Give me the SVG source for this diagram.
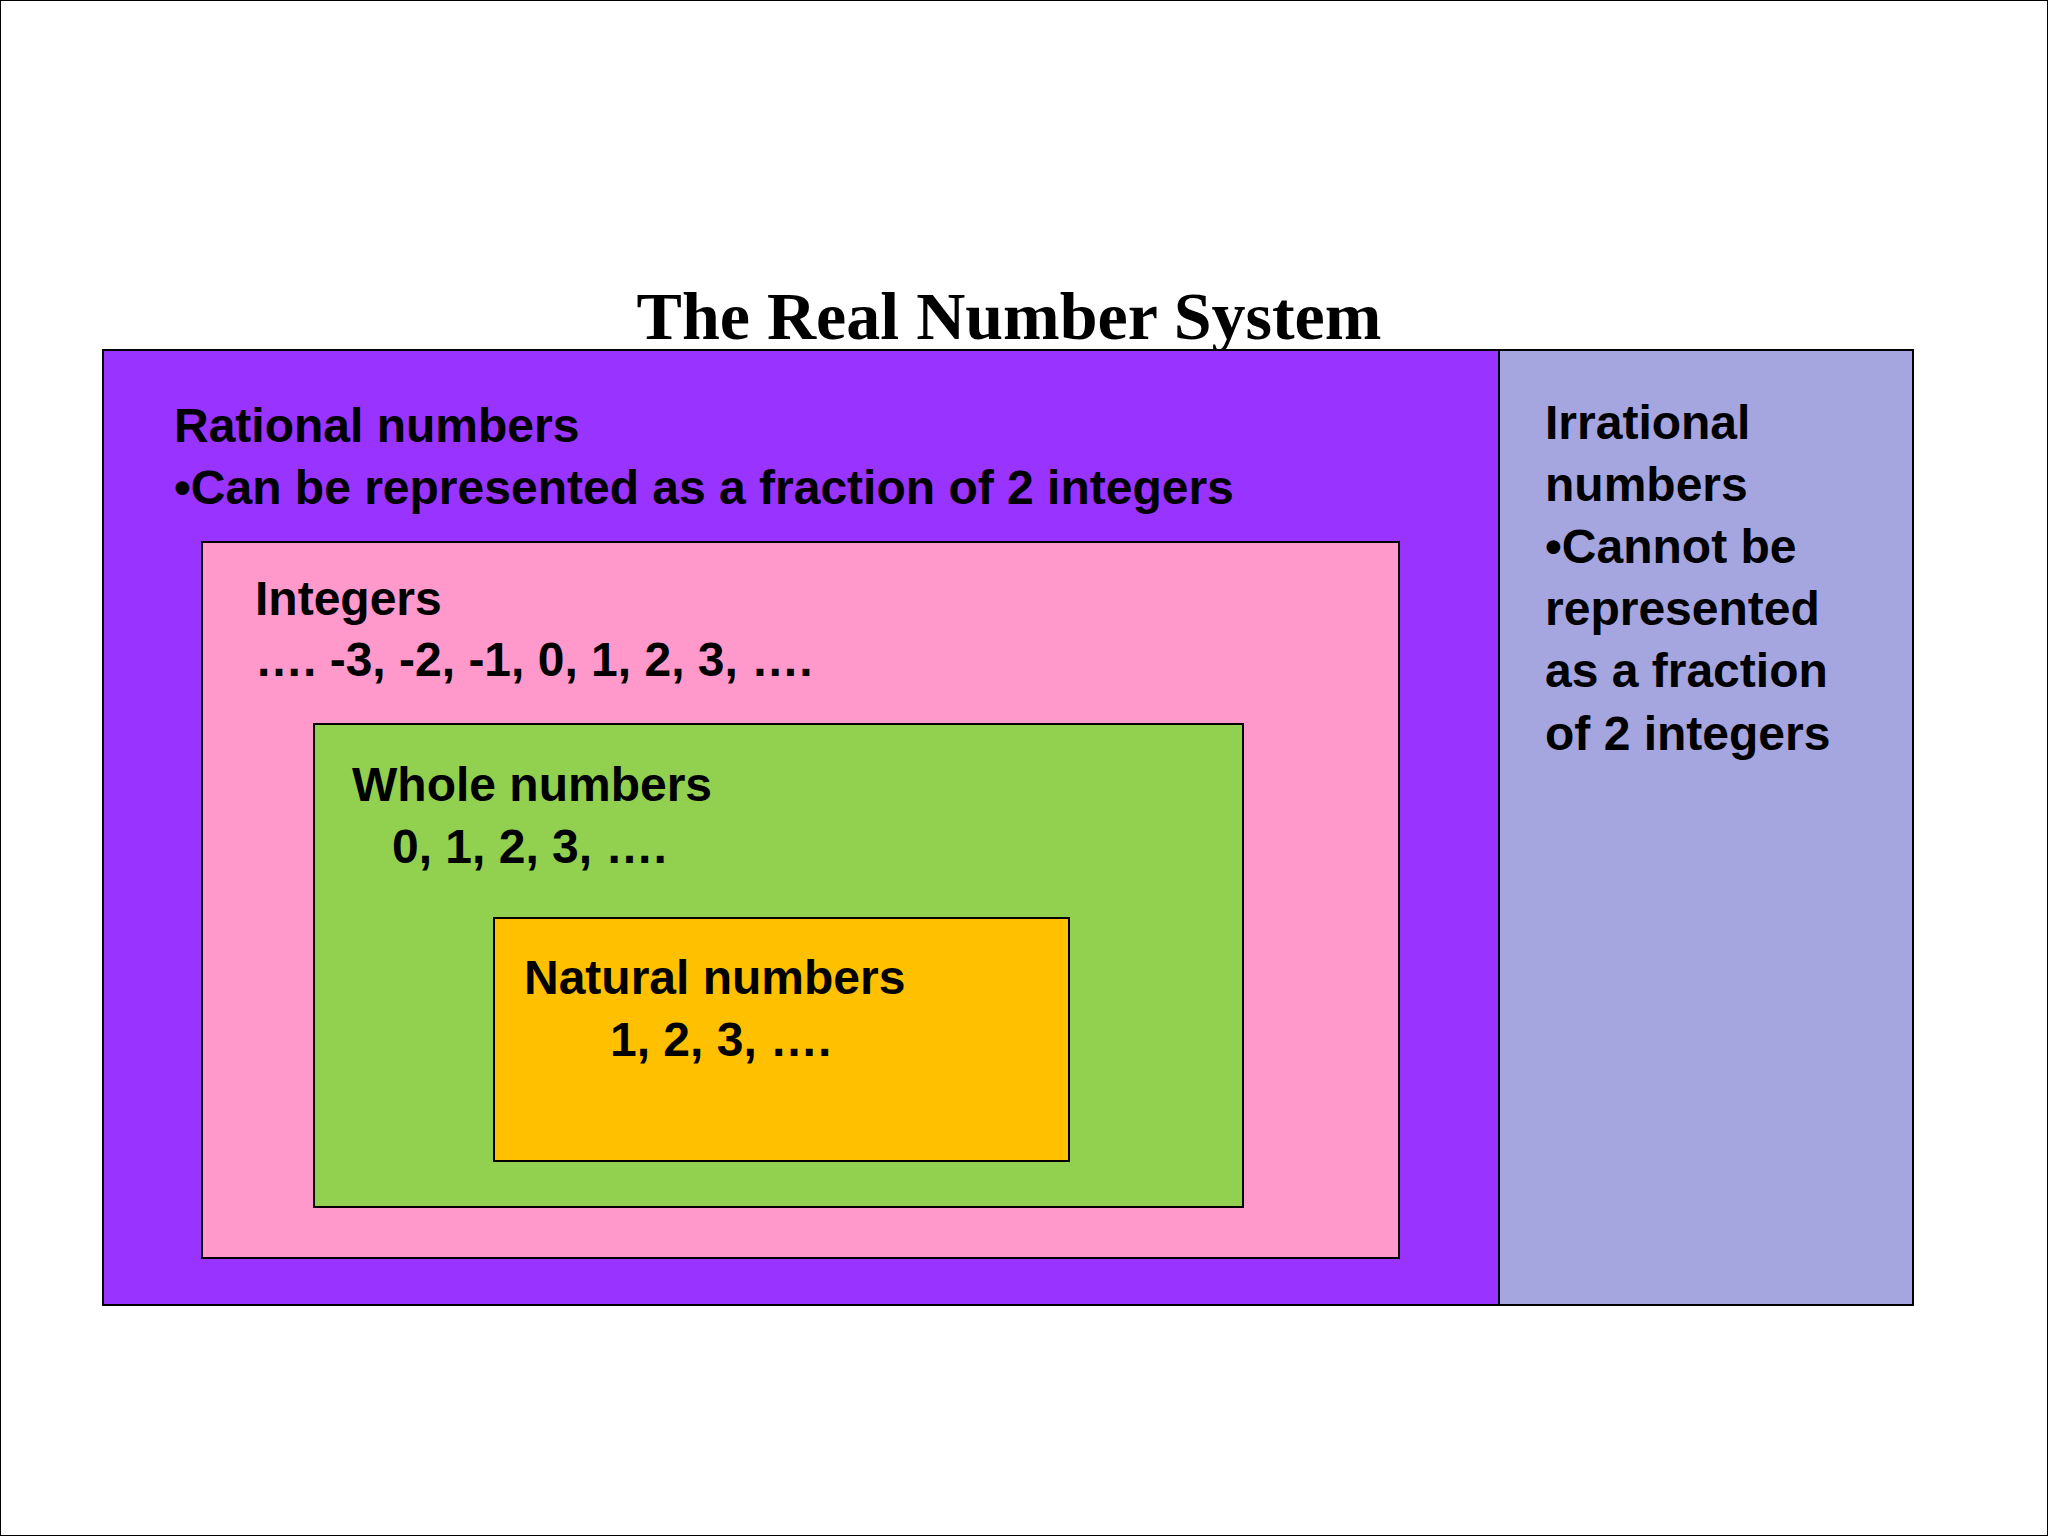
<svg xmlns="http://www.w3.org/2000/svg" width="2048" height="1536" viewBox="0 0 2048 1536">
<style>
rect{stroke:#000;stroke-width:2}
.t{font-family:"Liberation Sans",Arial,sans-serif;font-weight:bold;font-size:48px;fill:#000}
</style>
<rect x="0" y="0" width="2048" height="1536" fill="#fff" stroke="none"/>
<text x="1009" y="339" text-anchor="middle" font-family="Liberation Serif,serif" font-weight="bold" font-size="68">The Real Number System</text>
<g id="rational"><rect x="103" y="350" width="1396" height="955" fill="#9933FF"/>
<text class="t" x="174" y="442">Rational numbers</text>
<text class="t" x="174" y="504">•Can be represented as a fraction of 2 integers</text></g>
<g id="irrational"><rect x="1499" y="350" width="414" height="955" fill="#A5A5E0"/>
<text class="t" x="1545" y="439">Irrational</text>
<text class="t" x="1545" y="501">numbers</text>
<text class="t" x="1545" y="563">•Cannot be</text>
<text class="t" x="1545" y="625">represented</text>
<text class="t" x="1545" y="687">as a fraction</text>
<text class="t" x="1545" y="750">of 2 integers</text></g>
<g id="integers"><rect x="202" y="542" width="1197" height="716" fill="#FF99CC"/>
<text class="t" x="255" y="615">Integers</text>
<text class="t" x="255" y="676">…. -3, -2, -1, 0, 1, 2, 3, ….</text></g>
<g id="whole"><rect x="314" y="724" width="929" height="483" fill="#92D050"/>
<text class="t" x="352" y="801">Whole numbers</text>
<text class="t" x="392" y="863">0, 1, 2, 3, ….</text></g>
<g id="natural"><rect x="494" y="918" width="575" height="243" fill="#FFC000"/>
<text class="t" x="524" y="994">Natural numbers</text>
<text class="t" x="610" y="1056">1, 2, 3, ….</text></g>
<g id="connectors"/>
</svg>
